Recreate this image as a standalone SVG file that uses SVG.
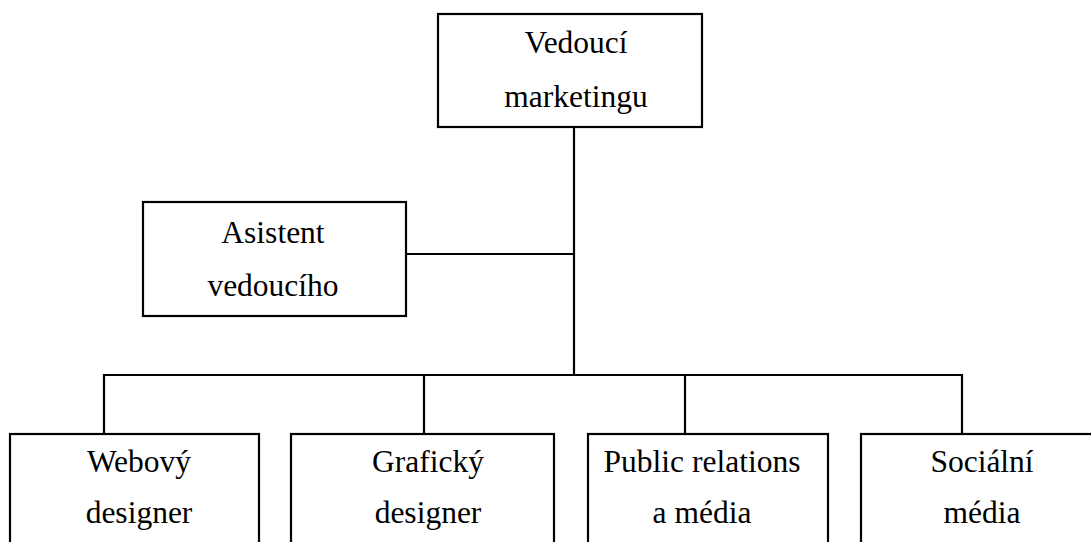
<svg xmlns="http://www.w3.org/2000/svg" width="1091" height="542" viewBox="0 0 1091 542">
<style>
.box{fill:#fff;stroke:#000;stroke-width:2.2}
.ln{fill:none;stroke:#000;stroke-width:2.2}
text{font-family:"Liberation Serif","Times New Roman",serif;font-size:31.5px;fill:#000;text-anchor:middle}
</style>
<rect width="1091" height="542" fill="#fff"/>
<g id="connectors">
<line class="ln" x1="574" y1="127" x2="574" y2="375"/>
<line class="ln" x1="406" y1="254" x2="574" y2="254"/>
<polyline class="ln" points="104,434 104,375 962,375 962,434"/>
<line class="ln" x1="424" y1="375" x2="424" y2="434"/>
<line class="ln" x1="685" y1="375" x2="685" y2="434"/>
</g>
<g id="n-vedouci">
<rect class="box" x="438" y="14" width="264" height="113"/>
<text x="576" y="53">Vedoucí</text>
<text x="576" y="107">marketingu</text>
</g>
<g id="n-asistent">
<rect class="box" x="143" y="202" width="263" height="114"/>
<text x="273" y="243">Asistent</text>
<text x="273" y="296">vedoucího</text>
</g>
<g id="n-web">
<rect class="box" x="10" y="434" width="249" height="120"/>
<text x="139" y="472">Webový</text>
<text x="139" y="523">designer</text>
</g>
<g id="n-graf">
<rect class="box" x="291" y="434" width="263" height="120"/>
<text x="428" y="472">Grafický</text>
<text x="428" y="523">designer</text>
</g>
<g id="n-pr">
<rect class="box" x="588" y="434" width="240" height="120"/>
<text x="702" y="472">Public relations</text>
<text x="702" y="523">a média</text>
</g>
<g id="n-social">
<rect class="box" x="861" y="434" width="240" height="120"/>
<text x="982" y="472">Sociální</text>
<text x="982" y="523">média</text>
</g>
</svg>
